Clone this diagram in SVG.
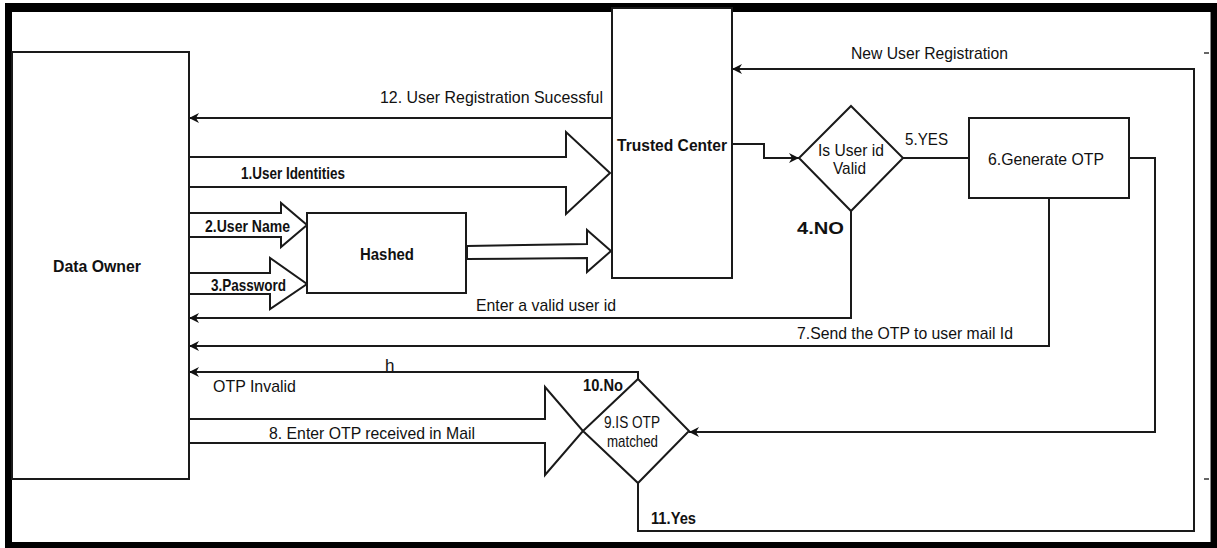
<svg xmlns="http://www.w3.org/2000/svg" width="1217" height="548" viewBox="0 0 1217 548">
<style>
.box{fill:#fff;stroke:#1a1a1a;stroke-width:2}
.blk{fill:#fff;stroke:#1a1a1a;stroke-width:2;stroke-linejoin:miter}
.ln{fill:none;stroke:#1a1a1a;stroke-width:2}
.t{font-family:"Liberation Sans",Arial,sans-serif;font-size:17px;fill:#111}
.b{font-weight:bold}
</style>
<defs>
<marker id="ah" markerUnits="userSpaceOnUse" markerWidth="11" markerHeight="10" refX="10" refY="5" orient="auto">
<path d="M0,0 L10,5 L0,10 L3,5 z" fill="#111"/>
</marker>
</defs>
<g id="frame">
<rect x="5" y="3" width="1212" height="545" fill="#000"/>
<rect x="12" y="12" width="1199" height="530" fill="#fff"/>
<line x1="1210.5" y1="12" x2="1210.5" y2="542" stroke="#888" stroke-width="1"/>
<line x1="1204" y1="53" x2="1209" y2="53" stroke="#333" stroke-width="1.5"/>
<line x1="1204" y1="479" x2="1209" y2="479" stroke="#333" stroke-width="1.5"/>
</g>
<g id="connectors">
<path class="ln" d="M612,118 H189" marker-end="url(#ah)"/>
<path class="ln" d="M732,144 H764 V158 H799" marker-end="url(#ah)"/>
<path class="ln" d="M903,158 H969"/>
<path class="ln" d="M851,211 V318 H189" marker-end="url(#ah)"/>
<path class="ln" d="M1049,198 V346 H189" marker-end="url(#ah)"/>
<path class="ln" d="M1129,158 H1155 V432 H689" marker-end="url(#ah)"/>
<path class="ln" d="M638,379 V372 H189" marker-end="url(#ah)"/>
<path class="ln" d="M638,483 V531 H1194 V69 H732" marker-end="url(#ah)"/>
<polygon class="blk" points="189,157 566,157 566,132 610,173 566,214 566,187 189,187"/>
<polygon class="blk" points="189,213 281,213 281,203 307,225 281,247 281,237 189,237"/>
<polygon class="blk" points="189,273 270,273 270,258 307,284 270,309 270,294 189,294"/>
<polygon class="blk" points="467,246 587,244 587,230 611,251 587,272 587,258 467,259"/>
<polygon class="blk" points="189,419 545,419 545,387 583,431 545,475 545,443 189,443"/>
</g>
<g id="data-owner">
<rect class="box" x="12" y="52" width="177" height="427"/>
<text class="t b" x="53" y="272" textLength="88" lengthAdjust="spacingAndGlyphs">Data Owner</text>
</g>
<g id="trusted-center">
<rect class="box" x="612" y="8" width="120" height="270"/>
<text class="t b" x="617" y="151" textLength="110" lengthAdjust="spacingAndGlyphs">Trusted Center</text>
</g>
<g id="hashed">
<rect class="box" x="307" y="213" width="159" height="80"/>
<text class="t b" x="360" y="260" textLength="54" lengthAdjust="spacingAndGlyphs">Hashed</text>
</g>
<g id="is-user-id-valid">
<polygon class="box" points="851,106 903,158 851,211 799,158"/>
<text class="t" x="818" y="156" textLength="66" lengthAdjust="spacingAndGlyphs">Is User id</text>
<text class="t" x="833" y="174" textLength="33" lengthAdjust="spacingAndGlyphs">Valid</text>
</g>
<g id="generate-otp">
<rect class="box" x="969" y="118" width="160" height="80"/>
<text class="t" x="988" y="165" textLength="116" lengthAdjust="spacingAndGlyphs">6.Generate OTP</text>
</g>
<g id="is-otp-matched">
<polygon class="box" points="638,379 689,431 638,483 583,431"/>
<text class="t" x="604" y="428" textLength="56" lengthAdjust="spacingAndGlyphs">9.IS OTP</text>
<text class="t" x="607" y="447" textLength="51" lengthAdjust="spacingAndGlyphs">matched</text>
</g>
<g id="labels">
<text class="t" x="380" y="103" textLength="223" lengthAdjust="spacingAndGlyphs">12. User Registration Sucessful</text>
<text class="t" x="851" y="59" textLength="157" lengthAdjust="spacingAndGlyphs">New User Registration</text>
<text class="t b" x="241" y="179" textLength="104" lengthAdjust="spacingAndGlyphs">1.User Identities</text>
<text class="t b" x="205" y="232" textLength="85" lengthAdjust="spacingAndGlyphs">2.User Name</text>
<text class="t b" x="211" y="291" textLength="75" lengthAdjust="spacingAndGlyphs">3.Password</text>
<text class="t" x="905" y="145" textLength="43" lengthAdjust="spacingAndGlyphs">5.YES</text>
<text class="t b" x="797" y="234" textLength="47" lengthAdjust="spacingAndGlyphs">4.NO</text>
<text class="t" x="476" y="311" textLength="140" lengthAdjust="spacingAndGlyphs">Enter a valid user id</text>
<text class="t" x="797" y="339" textLength="216" lengthAdjust="spacingAndGlyphs">7.Send the OTP to user mail Id</text>
<text class="t" x="385" y="371">h</text>
<text class="t" x="213" y="392" textLength="83" lengthAdjust="spacingAndGlyphs">OTP Invalid</text>
<text class="t b" x="583" y="391" textLength="40" lengthAdjust="spacingAndGlyphs">10.No</text>
<text class="t" x="269" y="439" textLength="206" lengthAdjust="spacingAndGlyphs">8. Enter OTP received in Mail</text>
<text class="t b" x="651" y="524" textLength="45" lengthAdjust="spacingAndGlyphs">11.Yes</text>
</g>
</svg>
